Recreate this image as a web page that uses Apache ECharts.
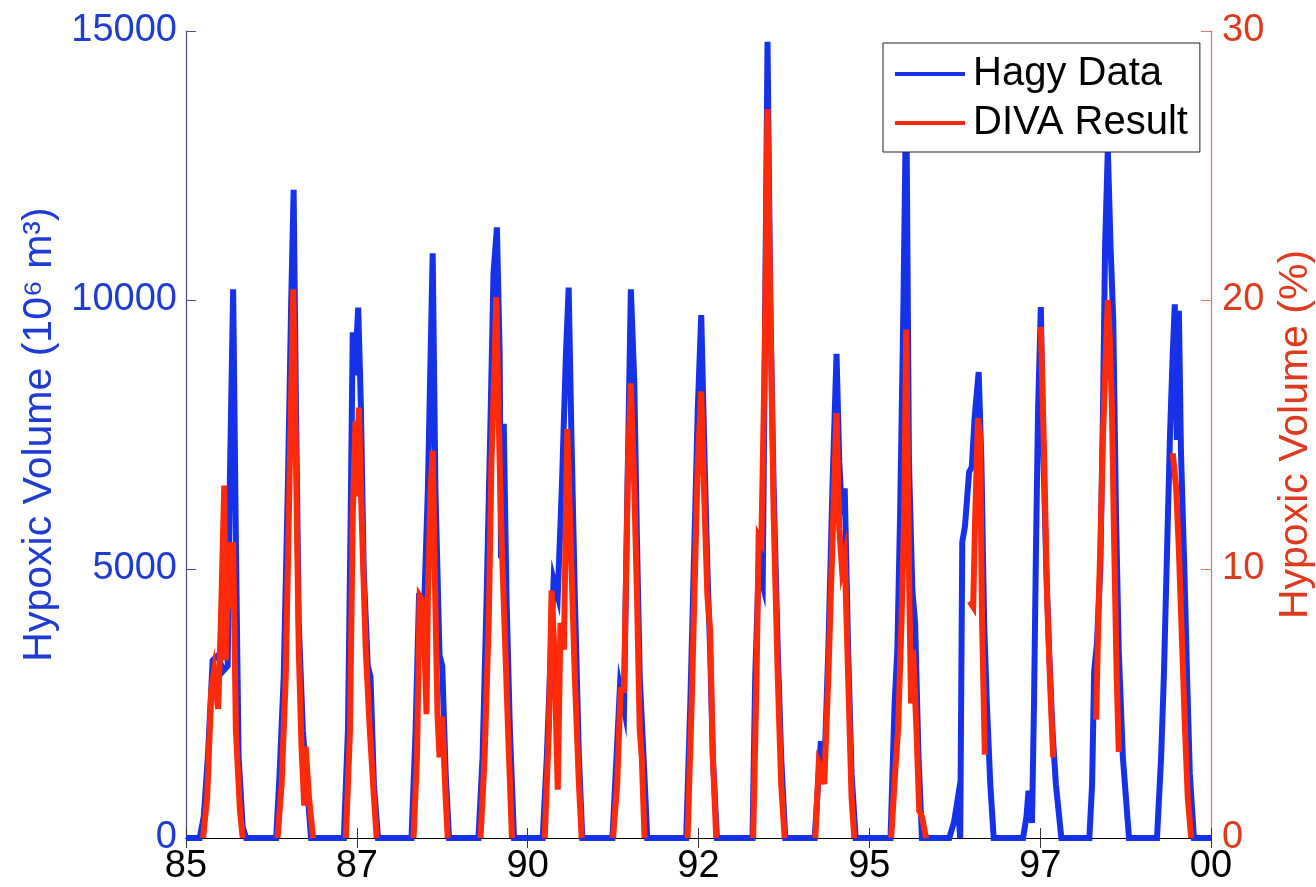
<!DOCTYPE html>
<html>
<head>
<meta charset="utf-8">
<script src="https://cdn.jsdelivr.net/npm/echarts@6/dist/echarts.min.js"></script>
<style>
html,body{margin:0;padding:0;background:#fff;overflow:hidden;width:100%;height:100%;}
#chart{width:1316px;height:887px;position:absolute;left:0;top:0;}
</style>
</head>
<body>
<div id="chart"></div>
<script>
// X tick labels (years 1985..2000 every 2.5 years)
const xTickLabels = ['85','87','90','92','95','97','00'];
const leftTicks = [0, 5000, 10000, 15000];
const rightTicks = [0, 10, 20, 30];

// Hagy Data: hypoxic volume (10^6 m^3), [decimal year, value] per season
const hagySeasons = [
  [[1985.20,0],[1985.26,400],[1985.32,1500],[1985.39,3300],[1985.47,3400],[1985.54,3100],[1985.61,3200],[1985.64,6500],[1985.69,10200],[1985.73,5500],[1985.77,1500],[1985.83,200],[1985.88,0]],
  [[1986.32,0],[1986.37,1200],[1986.43,3000],[1986.49,6500],[1986.54,10000],[1986.575,12050],[1986.61,8000],[1986.65,4000],[1986.71,2000],[1986.77,1000],[1986.83,0]],
  [[1987.31,0],[1987.37,2000],[1987.41,6000],[1987.44,9400],[1987.47,8600],[1987.52,9860],[1987.56,8000],[1987.60,5000],[1987.66,3200],[1987.70,3000],[1987.75,1000],[1987.81,0]],
  [[1988.30,0],[1988.36,2000],[1988.41,4500],[1988.49,4500],[1988.54,6500],[1988.58,9000],[1988.61,10870],[1988.65,6500],[1988.71,3400],[1988.75,3200],[1988.80,1200],[1988.85,0]],
  [[1989.28,0],[1989.34,1500],[1989.40,4500],[1989.46,8000],[1989.50,10500],[1989.55,11350],[1989.59,9000],[1989.61,5200],[1989.65,7700],[1989.69,4500],[1989.74,2000],[1989.80,0]],
  [[1990.22,0],[1990.28,1500],[1990.34,3500],[1990.38,4800],[1990.44,4500],[1990.50,6500],[1990.56,9000],[1990.60,10230],[1990.64,7500],[1990.69,4500],[1990.75,1500],[1990.80,0]],
  [[1991.24,0],[1991.30,1500],[1991.35,2800],[1991.41,2400],[1991.46,6500],[1991.51,10200],[1991.56,8500],[1991.60,5500],[1991.64,3000],[1991.70,1400],[1991.75,0]],
  [[1992.32,0],[1992.38,2500],[1992.44,5500],[1992.49,8000],[1992.54,9720],[1992.58,7500],[1992.63,5000],[1992.67,3500],[1992.71,1500],[1992.77,0]],
  [[1993.29,0],[1993.33,3000],[1993.38,5000],[1993.44,4700],[1993.47,9000],[1993.51,14800],[1993.55,10000],[1993.60,6500],[1993.66,3500],[1993.71,1500],[1993.77,0]],
  [[1994.20,0],[1994.25,1000],[1994.29,1800],[1994.34,1200],[1994.40,3500],[1994.46,6500],[1994.52,9000],[1994.56,7000],[1994.60,6000],[1994.64,6500],[1994.69,3500],[1994.74,1200],[1994.80,0]],
  [[1995.31,0],[1995.37,2500],[1995.41,3500],[1995.45,6000],[1995.50,10000],[1995.54,14000],[1995.58,7000],[1995.63,4600],[1995.67,4000],[1995.72,1500],[1995.77,0]],
  [[1996.17,0],[1996.24,300],[1996.29,700],[1996.33,0],[1996.36,5500],[1996.40,5800],[1996.46,6800],[1996.50,6900],[1996.54,7800],[1996.60,8660],[1996.64,7000],[1996.68,4000],[1996.72,2500],[1996.77,1000],[1996.82,0]],
  [[1997.25,0],[1997.30,400],[1997.33,880],[1997.35,880],[1997.38,280],[1997.41,2500],[1997.44,5500],[1997.47,8000],[1997.51,9870],[1997.54,7500],[1997.59,5000],[1997.63,3500],[1997.68,2000],[1997.73,1000],[1997.81,0]],
  [[1998.22,0],[1998.26,1000],[1998.29,3100],[1998.33,3600],[1998.38,5000],[1998.42,8000],[1998.45,11000],[1998.49,12800],[1998.53,11000],[1998.57,9600],[1998.61,6000],[1998.65,3500],[1998.71,1500],[1998.80,0]],
  [[1999.21,0],[1999.27,1500],[1999.31,3000],[1999.36,5500],[1999.40,7500],[1999.44,9000],[1999.47,9920],[1999.50,7400],[1999.53,9800],[1999.56,7200],[1999.61,5000],[1999.65,3000],[1999.69,1200],[1999.75,0]]
];

// DIVA Result: hypoxic volume (%), [decimal year, value] per season
const divaSeasons = [
  [[1985.25,0],[1985.31,1.5],[1985.37,5.5],[1985.41,6.2],[1985.47,4.8],[1985.51,8],[1985.56,13.1],[1985.58,6.6],[1985.63,11],[1985.66,8.5],[1985.69,11],[1985.73,4],[1985.79,1],[1985.83,0]],
  [[1986.34,0],[1986.40,2],[1986.46,6],[1986.52,14],[1986.57,20.4],[1986.61,14],[1986.65,7],[1986.69,3.4],[1986.73,1.2],[1986.75,3.4],[1986.80,1.5],[1986.86,0]],
  [[1987.34,0],[1987.40,4],[1987.44,12],[1987.48,15.5],[1987.49,12.7],[1987.53,16],[1987.57,12],[1987.63,7],[1987.69,4],[1987.75,1.5],[1987.79,0]],
  [[1988.33,0],[1988.38,3],[1988.42,9],[1988.47,8.8],[1988.52,4.6],[1988.54,9],[1988.58,13],[1988.61,14.4],[1988.64,10],[1988.68,4.6],[1988.71,3],[1988.75,4.5],[1988.80,1.5],[1988.83,0]],
  [[1989.31,0],[1989.37,3],[1989.43,8],[1989.47,14],[1989.52,18],[1989.54,20.1],[1989.59,14],[1989.62,11],[1989.66,8],[1989.72,3.5],[1989.77,0]],
  [[1990.25,0],[1990.31,4],[1990.35,9.2],[1990.39,7],[1990.44,1.8],[1990.48,8],[1990.53,7],[1990.56,12],[1990.58,15.2],[1990.63,11],[1990.69,6],[1990.75,2],[1990.79,0]],
  [[1991.25,0],[1991.31,2],[1991.36,5.5],[1991.41,5.5],[1991.47,14],[1991.51,16.9],[1991.56,13],[1991.60,9],[1991.64,4],[1991.67,3],[1991.71,0]],
  [[1992.34,0],[1992.40,5],[1992.45,10],[1992.49,14],[1992.54,16.6],[1992.58,13],[1992.63,9],[1992.67,7.7],[1992.71,3],[1992.76,0]],
  [[1993.30,0],[1993.35,6],[1993.38,11.2],[1993.42,11],[1993.47,18],[1993.51,27.1],[1993.55,20],[1993.60,12],[1993.66,6],[1993.71,2],[1993.76,0]],
  [[1994.21,0],[1994.26,2.8],[1994.31,2.5],[1994.34,2],[1994.40,6],[1994.46,11],[1994.52,15.8],[1994.56,11.5],[1994.60,10],[1994.64,10.5],[1994.69,6],[1994.74,1.5],[1994.78,0]],
  [[1995.32,0],[1995.38,2.5],[1995.42,4],[1995.47,8],[1995.51,12],[1995.54,18.9],[1995.58,10],[1995.61,5],[1995.64,7],[1995.69,4],[1995.73,1],[1995.77,0.8],[1995.83,0]],
  [[1996.47,8.8],[1996.52,8.6],[1996.55,12],[1996.59,15.6],[1996.62,15],[1996.65,8],[1996.69,3.1]],
  [[1997.51,19.0],[1997.56,14],[1997.60,9],[1997.65,5.5],[1997.69,3]],
  [[1998.32,4.4],[1998.35,8],[1998.38,10.8],[1998.42,15],[1998.49,20],[1998.52,18.5],[1998.55,16],[1998.58,11.3],[1998.62,6],[1998.65,3.2]],
  [[1999.44,14.3],[1999.49,13],[1999.53,10.7],[1999.58,7],[1999.62,4],[1999.66,1.5],[1999.71,0]]
];

const X_MIN = 1985, X_MAX = 2000, X_STEP = 2.5;

// Build series data
const hagyData = [[X_MIN, 0]];
hagySeasons.forEach(s => s.forEach(p => hagyData.push(p)));
hagyData.push([X_MAX, 0]);

const divaData = [];
divaSeasons.forEach((s, i) => {
  s.forEach(p => divaData.push(p));
  if (i < divaSeasons.length - 1) divaData.push([s[s.length - 1][0] + 0.001, '-']);
});

const BLUE = '#1632e8';
const RED = '#ff2a0a';
const BLUE_TXT = '#1f3cd2';
const RED_TXT = '#dd3a1e';
const FONT = 'Liberation Sans, Arial, sans-serif';

const chart = echarts.init(document.getElementById('chart'), null, {renderer: 'canvas', width: 1316, height: 887});

const xLabelFmt = v => {
  const idx = Math.round((v - X_MIN) / X_STEP);
  return xTickLabels[idx] !== undefined ? xTickLabels[idx] : '';
};

chart.setOption({
  animation: false,
  backgroundColor: '#ffffff',
  grid: {left: 186, right: 105, top: 31, bottom: 49, containLabel: false, outerBoundsMode: 'none'},
  legend: {
    data: ['Hagy Data', 'DIVA Result'],
    orient: 'vertical',
    left: 883,
    top: 43,
    padding: [11, 12, 9, 12],
    itemGap: 9,
    itemWidth: 70,
    itemHeight: 4,
    icon: 'rect',
    backgroundColor: '#ffffff',
    borderColor: '#222222',
    borderWidth: 1,
    borderRadius: 0,
    textStyle: {fontFamily: FONT, fontSize: 40, color: '#000', padding: [0, 0, 0, 3]},
    z: 10
  },
  xAxis: [
    {
      type: 'value', min: X_MIN, max: X_MAX, interval: X_STEP, position: 'bottom',
      axisLine: {show: true, lineStyle: {color: '#000', width: 1.2}},
      axisTick: {show: true, inside: true, length: 10, lineStyle: {color: '#333'}},
      axisLabel: {formatter: xLabelFmt, fontFamily: FONT, fontSize: 38, color: '#000', margin: 10},
      splitLine: {show: false}
    },
    {
      type: 'value', min: X_MIN, max: X_MAX, interval: X_STEP, position: 'top',
      axisLine: {show: true, lineStyle: {color: '#000', width: 1.2}},
      axisTick: {show: true, inside: true, length: 10, lineStyle: {color: '#333'}},
      axisLabel: {show: false},
      splitLine: {show: false}
    }
  ],
  yAxis: [
    {
      type: 'value', min: leftTicks[0], max: leftTicks[leftTicks.length - 1], interval: leftTicks[1] - leftTicks[0],
      position: 'left',
      axisLine: {show: true, lineStyle: {color: '#46508c', width: 1.2}},
      axisTick: {show: true, inside: true, length: 10, lineStyle: {color: '#46508c'}},
      axisLabel: {formatter: v => String(v), fontFamily: FONT, fontSize: 38, color: BLUE_TXT, margin: 9},
      splitLine: {show: false},
      name: 'Hypoxic Volume (10\u2076 m\u00b3)',
      nameLocation: 'middle',
      nameRotate: 90,
      nameGap: 118,
      nameTextStyle: {fontFamily: FONT, fontSize: 41, color: BLUE_TXT}
    },
    {
      type: 'value', min: rightTicks[0], max: rightTicks[rightTicks.length - 1], interval: rightTicks[1] - rightTicks[0],
      position: 'right',
      axisLine: {show: true, lineStyle: {color: '#d2786c', width: 1.2}},
      axisTick: {show: true, inside: true, length: 10, lineStyle: {color: '#d2786c'}},
      axisLabel: {formatter: v => String(v), fontFamily: FONT, fontSize: 38, color: RED_TXT, margin: 11},
      splitLine: {show: false},
      name: 'Hypoxic Volume (%)',
      nameLocation: 'middle',
      nameRotate: 90,
      nameGap: 64,
      nameTextStyle: {fontFamily: FONT, fontSize: 41, color: RED_TXT}
    }
  ],
  series: [
    {
      name: 'Hagy Data', type: 'line', xAxisIndex: 0, yAxisIndex: 0,
      data: hagyData, showSymbol: false, symbol: 'none',
      lineStyle: {color: BLUE, width: 6, join: 'miter'},
      itemStyle: {color: BLUE},
      z: 2
    },
    {
      name: 'DIVA Result', type: 'line', xAxisIndex: 0, yAxisIndex: 1,
      data: divaData, showSymbol: false, symbol: 'none', connectNulls: false,
      lineStyle: {color: RED, width: 6, join: 'miter'},
      itemStyle: {color: RED},
      z: 3
    }
  ]
});
</script>
</body>
</html>
